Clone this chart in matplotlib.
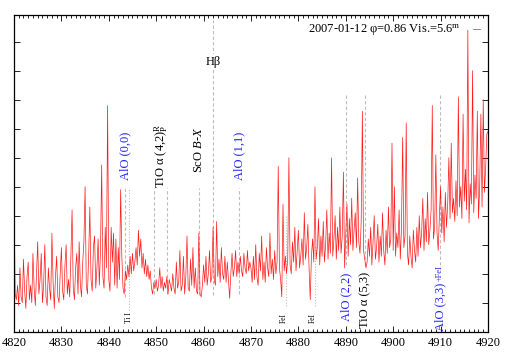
import numpy as np
import matplotlib
matplotlib.use("Agg")
import matplotlib.pyplot as plt
from matplotlib.ticker import MultipleLocator, NullFormatter

plt.rcParams['font.family'] = ['Liberation Serif', 'DejaVu Serif']
plt.rcParams['mathtext.fontset'] = 'custom'
plt.rcParams['mathtext.rm'] = 'Liberation Serif'
plt.rcParams['mathtext.it'] = 'Liberation Serif:italic'

wl_start = 4820.0
wl_step = 0.25
flux = [
    4.7, 1.3, 1.1, 1.6, 0.9, 2.2, 1.2, 1.0, 2.5, 1.4, 0.8, 1.9, 2.4, 1.1, 1.6, 1.0, 2.7, 1.5, 0.9, 2.0,
    3.1, 1.3, 1.8, 2.7, 1.0, 1.6, 3.0, 1.2, 0.9, 2.2, 1.5, 1.1, 3.4, 1.7, 0.8, 1.9, 2.6, 1.2, 1.0, 2.0,
    2.9, 1.4, 1.1, 2.3, 3.0, 1.3, 1.8, 1.2, 2.6, 4.2, 1.5, 1.1, 2.2, 2.7, 1.3, 3.1, 1.6, 1.2, 2.4, 3.1,
    5.0, 1.6, 1.3, 2.6, 4.3, 1.8, 1.4, 2.9, 3.3, 1.5, 2.2, 3.2, 1.6, 2.8, 5.75, 1.9, 1.5, 3.6, 2.2, 7.8,
    1.8, 1.4, 3.6, 2.4, 3.4, 1.6, 3.2, 1.5, 2.9, 1.8, 4.9, 2.6, 1.5, 1.3, 2.1, 1.8, 2.3, 1.9, 2.6, 2.0,
    2.7, 2.1, 2.4, 2.9, 2.3, 3.5, 2.6, 3.2, 2.2, 2.7, 2.0, 2.5, 1.9, 2.3, 1.8, 2.1, 1.5, 1.3, 1.7, 1.5,
    1.8, 1.4, 1.6, 2.2, 1.5, 1.9, 1.4, 1.7, 1.5, 1.9, 1.3, 1.8, 1.6, 1.4, 2.0, 1.5, 1.3, 2.4, 1.5, 1.7,
    2.8, 1.4, 1.6, 2.6, 1.3, 1.9, 3.3, 1.5, 1.4, 2.5, 1.6, 2.9, 1.5, 2.2, 1.4, 1.3, 3.4, 1.3, 1.2, 1.6,
    2.3, 1.7, 2.6, 1.6, 2.0, 2.8, 1.7, 1.9, 3.6, 1.8, 1.6, 3.8, 1.9, 2.5, 1.7, 2.9, 2.0, 1.8, 2.6, 1.7,
    2.4, 1.8, 1.15, 2.0, 2.7, 1.9, 2.2, 2.8, 1.9, 2.4, 2.0, 2.6, 2.1, 1.9, 2.7, 2.2, 2.0, 2.8, 2.1, 2.4,
    2.2, 1.7, 2.6, 1.8, 3.0, 1.9, 1.6, 2.7, 2.1, 3.3, 1.8, 2.4, 1.7, 2.9, 2.2, 1.9, 3.4, 2.0, 2.5, 1.8,
    2.8, 2.0, 2.4, 5.7, 2.2, 1.8, 1.2, 4.4, 2.1, 2.6, 2.0, 2.5, 6.0, 2.3, 2.0, 3.1, 2.4, 3.6, 2.1, 2.8,
    3.5, 2.2, 2.6, 3.2, 2.3, 4.1, 2.5, 2.9, 3.7, 2.2, 1.1, 2.6, 3.2, 2.4, 5.0, 2.5, 2.9, 3.9, 2.3, 3.3,
    2.6, 3.8, 2.4, 3.0, 4.2, 2.5, 3.4, 2.7, 6.0, 2.6, 3.2, 4.0, 2.5, 3.6, 2.8, 4.3, 2.7, 3.3, 5.5, 2.2,
    3.4, 4.4, 2.6, 3.9, 3.0, 4.6, 2.8, 3.5, 4.1, 2.9, 5.3, 3.1, 2.7, 3.8, 7.6, 2.8, 2.5, 2.2, 2.4, 3.2,
    2.6, 3.6, 2.3, 3.1, 4.0, 2.5, 2.9, 3.7, 2.4, 3.3, 2.6, 4.1, 2.8, 2.3, 3.5, 2.7, 4.3, 2.9, 3.2, 6.5,
    2.8, 5.0, 2.6, 3.4, 2.9, 4.2, 2.5, 3.6, 6.7, 2.9, 3.3, 7.2, 2.7, 2.3, 3.3, 2.6, 2.2, 3.5, 2.8, 2.4,
    3.6, 2.6, 4.0, 2.9, 3.4, 4.6, 2.8, 3.9, 3.1, 4.8, 3.0, 3.5, 4.2, 7.8, 3.2, 3.6, 6.1, 3.4, 2.8, 4.0,
    5.0, 3.4, 4.3, 3.1, 4.8, 3.6, 4.4, 6.0, 3.9, 6.5, 4.1, 4.6, 3.8, 5.2, 4.0, 8.1, 4.3, 5.0, 3.9, 7.5,
    4.5, 5.6, 4.2, 10.4, 3.75, 5.1, 4.4, 9.0, 4.1, 5.4, 4.6, 7.6, 3.9, 5.0, 7.5, 4.3, 8.0, 4.8, 5.6, 6.8,
    6.9,
]
wave = wl_start + wl_step * np.arange(len(flux))

# identified features: (wavelength, y from, y to)
dashed_wl = [4843.4, 4849.5, 4852.3, 4859.0, 4867.4]
dashed_lo = [1.2, 1.3, 1.3, 1.25, 1.3]
dashed_hi = [4.95, 4.95, 4.95, 4.95, 4.95]
dotted_wl = [4844.3, 4877.4, 4883.5]
dotted_lo = [0.75, 0.9, 0.9]
dotted_hi = [4.95, 4.0, 3.0]
low_wl = [4890.0, 4894.1, 4909.9]
hbeta_wl = 4862.0

fig = plt.figure(figsize=(5.09, 3.56), dpi=100)
ax = fig.add_axes([0.0275, 0.0683, 0.9312, 0.8896])

grey = '#bdbdbd'
ax.vlines(dashed_wl, dashed_lo, dashed_hi, colors=grey, linestyles=(0, (3, 2)), lw=0.8, zorder=1)
ax.vlines(dotted_wl, dotted_lo, dotted_hi, colors=grey, linestyles=(0, (1, 1.5)), lw=0.8, zorder=1)
ax.vlines(low_wl, 2.3, 8.23, colors=grey, linestyles=(0, (3, 2)), lw=0.8, zorder=1)
ax.vlines(hbeta_wl, 1.27, 10.75, colors=grey, linestyles=(0, (3, 2)), lw=0.8, zorder=1)

ax.plot(wave, flux, color='#ff1a1a', lw=0.5, zorder=2,
        label='2007-01-12 φ=0.86 Vis.=5.6$^{\\rm m}$')

blue = '#2020ff'
fs = 9
ax.text(4843.5, 5.23, 'AlO (0,0)', rotation=90, ha='center', va='bottom', color=blue, fontsize=fs)
ax.text(4851.0, 4.95, 'TiO α (4,2)$^{\\rm R}_{\\rm P}$', rotation=90, ha='center', va='bottom', fontsize=fs)
ax.text(4859.0, 5.47, 'ScO $B$-$X$', rotation=90, ha='center', va='bottom', fontsize=fs)
ax.text(4867.5, 5.23, 'AlO (1,1)', rotation=90, ha='center', va='bottom', color=blue, fontsize=fs)
ax.text(hbeta_wl, 9.3, 'Hβ', ha='center', va='center', fontsize=fs,
        bbox=dict(facecolor='white', edgecolor='none', pad=1.5), zorder=3)
ax.text(4844.3, 0.47, 'Ti I', rotation=90, ha='center', va='center', fontsize=5.5)
ax.text(4876.9, 0.47, 'FeI', rotation=90, ha='center', va='center', fontsize=5.5)
ax.text(4883.0, 0.47, 'FeI', rotation=90, ha='center', va='center', fontsize=5.5)
ax.text(4890.0, 2.02, 'AlO (2,2)', rotation=90, ha='center', va='top', color=blue, fontsize=fs)
ax.text(4894.1, 2.06, 'TiO α (5,3)', rotation=90, ha='center', va='top', fontsize=fs)
ax.text(4909.9, 1.7, 'AlO (3,3)', rotation=90, ha='center', va='top', color=blue, fontsize=fs)
ax.text(4909.9, 2.3, '+FeI', rotation=90, ha='center', va='top', color=blue, fontsize=6)

ax.set_xlim(4820, 4920)
ax.set_ylim(0, 10.92)
ax.xaxis.set_major_locator(MultipleLocator(10))
ax.xaxis.set_minor_locator(MultipleLocator(1))
ax.yaxis.set_major_locator(MultipleLocator(1))
ax.yaxis.set_major_formatter(NullFormatter())
ax.tick_params(which='both', direction='in', top=True, right=True, labelsize=9, width=0.6)
ax.tick_params(which='major', length=4)
ax.tick_params(which='minor', length=2)
ax.set_yticks(np.arange(1, 11))
for s in ax.spines.values():
    s.set_linewidth(0.9)

ax.legend(loc='upper right', frameon=False, markerfirst=False, handlelength=0.6,
          handletextpad=1.0, fontsize=fs, borderaxespad=0.2)

fig.savefig('out.png', dpi=100)
